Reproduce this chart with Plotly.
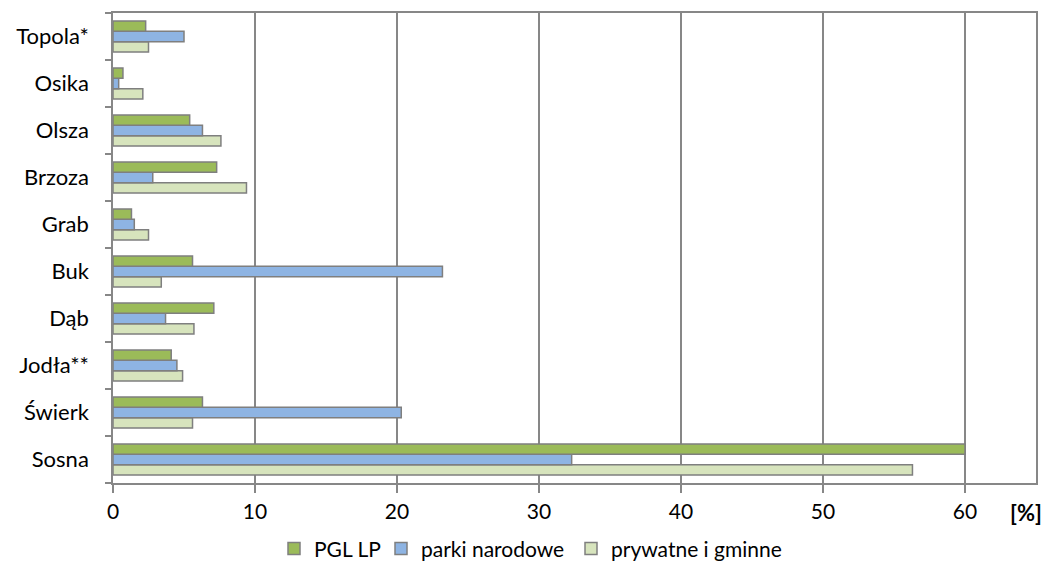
import plotly.graph_objects as go

categories = ["Sosna", "Świerk", "Jodła**", "Dąb", "Buk", "Grab", "Brzoza", "Olsza", "Osika", "Topola*"]
pgl_lp = [60.0, 6.3, 4.1, 7.1, 5.6, 1.3, 7.3, 5.4, 0.7, 2.3]
parki = [32.3, 20.3, 4.5, 3.7, 23.2, 1.5, 2.8, 6.3, 0.4, 5.0]
prywatne = [56.3, 5.6, 4.9, 5.7, 3.4, 2.5, 9.4, 7.6, 2.1, 2.5]
x_ticks = [0, 10, 20, 30, 40, 50, 60]

line = dict(color="#7f7f7f", width=1.5)
fig = go.Figure()
fig.add_trace(go.Bar(y=categories, x=prywatne, orientation="h", name="prywatne i gminne",
                     marker=dict(color="#d7e4bd", line=line), legend="legend3"))
fig.add_trace(go.Bar(y=categories, x=parki, orientation="h", name="parki narodowe",
                     marker=dict(color="#8eb4e3", line=line), legend="legend2"))
fig.add_trace(go.Bar(y=categories, x=pgl_lp, orientation="h", name="PGL LP",
                     marker=dict(color="#9bbb59", line=line), legend="legend"))

def leg(xpx):
    return dict(orientation="h", x=xpx / 1047, xanchor="left", y=0.027, yanchor="middle",
                xref="container", yref="container", font=dict(size=21), itemwidth=30,
                bgcolor="rgba(0,0,0,0)")

fig.update_layout(
    width=1047, height=564,
    margin=dict(l=113, r=11, t=13, b=81, autoexpand=False),
    barmode="group", bargap=0.34, bargroupgap=0,
    plot_bgcolor="white", paper_bgcolor="white",
    font=dict(family="Lato, Open Sans, sans-serif", size=20, color="#000000"),
    legend=leg(274), legend2=leg(381), legend3=leg(571),
    showlegend=True,
)
fig.update_xaxes(range=[0, 65], tickvals=x_ticks, showgrid=True, gridcolor="#878787", gridwidth=1.5,
                 showline=True, linecolor="#878787", linewidth=1.5, mirror=True,
                 ticks="outside", ticklen=8, tickcolor="#878787", tickwidth=1.5, zeroline=False,
                 automargin=False, ticklabelstandoff=1, tickfont=dict(size=21))
fig.update_yaxes(showline=True, linecolor="#878787", linewidth=1.5, mirror=True,
                 ticks="outside", ticklen=6, tickcolor="#878787", tickwidth=1.5,
                 tickson="boundaries", showgrid=False, automargin=False,
                 ticklabelstandoff=18, tickfont=dict(size=22))
fig.add_annotation(text="<b>[%]</b>", x=1.009, xref="paper", xanchor="right", y=-0.062, yref="paper",
                   yanchor="middle", showarrow=False, font=dict(size=22))
fig.write_html("out.html", config={"displayModeBar": False},
               post_script="document.body.style.margin='0';document.body.style.overflow='hidden';")
